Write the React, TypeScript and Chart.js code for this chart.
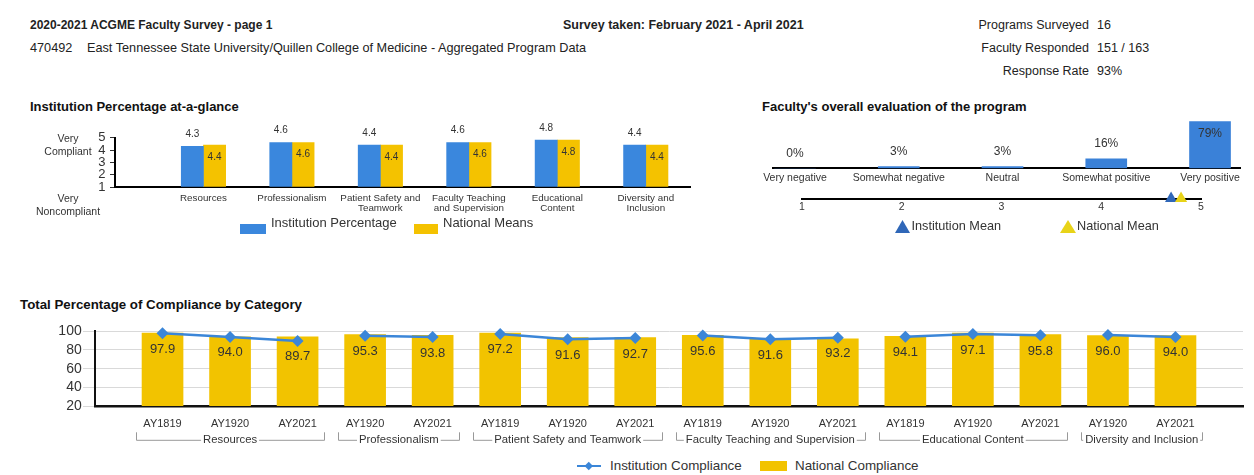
import React, { useEffect, useRef } from "react";
import { Chart, registerables } from "chart.js";

Chart.register(...registerables);

const FONT = '"Liberation Sans", Arial, Helvetica, sans-serif';
Chart.defaults.font.family = FONT;
Chart.defaults.color = "#333";

// ---------- Data: Institution Percentage at-a-glance ----------
const glanceCategories: string[][] = [
  ["Resources"],
  ["Professionalism"],
  ["Patient Safety and", "Teamwork"],
  ["Faculty Teaching", "and Supervision"],
  ["Educational", "Content"],
  ["Diversity and", "Inclusion"],
];
const glanceInstitution = [4.3, 4.6, 4.4, 4.6, 4.8, 4.4];
const glanceNational = [4.4, 4.6, 4.4, 4.6, 4.8, 4.4];
const glanceTicks = [1, 2, 3, 4, 5];

// ---------- Data: Faculty's overall evaluation ----------
const evalCategories = ["Very negative", "Somewhat negative", "Neutral", "Somewhat positive", "Very positive"];
const evalPercent = [0, 3, 3, 16, 79];
const meanTicks = [1, 2, 3, 4, 5];
const institutionMean = [4.7];
const nationalMean = [4.8];

// ---------- Data: Total Percentage of Compliance by Category ----------
const complianceYears = [
  "AY1819", "AY1920", "AY2021",
  "AY1920", "AY2021",
  "AY1819", "AY1920", "AY2021",
  "AY1819", "AY1920", "AY2021",
  "AY1819", "AY1920", "AY2021",
  "AY1920", "AY2021",
];
const complianceGroups = [
  "Resources",
  "Professionalism",
  "Patient Safety and Teamwork",
  "Faculty Teaching and Supervision",
  "Educational Content",
  "Diversity and Inclusion",
];
const complianceGroupSizes = [3, 2, 3, 3, 3, 2];
const institutionCompliance = [97.9, 94.0, 89.7, 95.3, 93.8, 97.2, 91.6, 92.7, 95.6, 91.6, 93.2, 94.1, 97.1, 95.8, 96.0, 94.0];
const nationalCompliance = [98.0, 94.0, 94.0, 96.5, 95.7, 98.0, 93.2, 93.4, 95.7, 92.0, 92.0, 94.7, 98.0, 96.5, 95.4, 95.4];
const complianceTicks = [20, 40, 60, 80, 100];

// ---------- Colours ----------
const BLUE_A = "#3a87dd";
const YELLOW_A = "#f4c200";
const EVAL_BLUE = "#3a81d8";
const TRI_BLUE = "#2f67b8";
const TRI_YELLOW = "#e8d318";
const LINE_BLUE = "#3b86d8";
const YELLOW_C = "#f2c300";

const groupOf: number[] = [];
complianceGroupSizes.forEach((n, g) => {
  for (let k = 0; k < n; k++) groupOf.push(g);
});

function ChartCanvas({ left, top, width, height, make }: any) {
  const ref = useRef<HTMLCanvasElement>(null);
  useEffect(() => {
    const chart = new Chart(ref.current as HTMLCanvasElement, make());
    return () => chart.destroy();
  }, []);
  return (
    <canvas
      ref={ref}
      width={width}
      height={height}
      style={{ position: "absolute", left, top, width, height }}
    />
  );
}

function Txt({ x, y, size = 12, bold = false, align = "left", color = "#222", children }: any) {
  const lh = Math.round(size * 1.3);
  const style: any = {
    position: "absolute",
    top: y - lh / 2,
    lineHeight: lh + "px",
    fontSize: size,
    fontWeight: bold ? 700 : 400,
    color,
    whiteSpace: "nowrap",
  };
  if (align === "left") style.left = x;
  else if (align === "right") style.right = 1254 - x;
  else {
    style.left = x;
    style.transform = "translateX(-50%)";
  }
  return <div style={style}>{children}</div>;
}

function Box({ x, y, w, h, color, extra }: any) {
  return <div style={{ position: "absolute", left: x, top: y, width: w, height: h, background: color, ...(extra || {}) }} />;
}

// ---------- Chart A ----------
function makeGlance() {
  const labelPlugin = {
    id: "glanceLabels",
    afterDatasetsDraw(chart: any) {
      const ctx = chart.ctx;
      ctx.save();
      ctx.font = `10px ${FONT}`;
      ctx.fillStyle = "#333";
      ctx.textAlign = "center";
      ctx.textBaseline = "middle";
      chart.data.datasets.forEach((ds: any, di: number) => {
        const meta = chart.getDatasetMeta(di);
        meta.data.forEach((el: any, i: number) => {
          const v = ds.data[i].y;
          const y = di === 0 ? el.y - 12 : el.y + 12;
          ctx.fillText(v.toFixed(1), el.x, y);
        });
      });
      ctx.restore();
    },
  };
  return {
    type: "bar",
    data: {
      datasets: [
        {
          label: "Institution Percentage",
          data: glanceInstitution.map((y, i) => ({ x: i, y })),
          backgroundColor: BLUE_A,
          barThickness: 22.2,
          base: 1,
        },
        {
          label: "National Means",
          data: glanceNational.map((y, i) => ({ x: i, y })),
          backgroundColor: YELLOW_A,
          barThickness: 22.2,
          base: 1,
        },
      ],
    },
    options: {
      responsive: false,
      animation: false,
      devicePixelRatio: 1,
      layout: { padding: { left: 0, right: 70, top: 27.7, bottom: 0 } },
      plugins: { legend: { display: false }, tooltip: { enabled: false } },
      scales: {
        x: {
          type: "linear",
          offset: false,
          min: -1,
          max: 5.5,
          grid: { display: false, drawTicks: false, offset: false },
          border: { display: true, color: "#000", width: 2 },
          afterBuildTicks: (s: any) => {
            s.ticks = glanceCategories.map((_, i) => ({ value: i }));
          },
          ticks: {
            autoSkip: false,
            maxRotation: 0,
            minRotation: 0,
            padding: 6.4,
            font: { size: 9.8, lineHeight: 1.0 },
            color: "#333",
            callback: (v: any) => glanceCategories[v] ?? "",
          },
          afterFit: (s: any) => {
            s.height = 43;
          },
        },
        y: {
          min: 1,
          max: 5,
          afterBuildTicks: (s: any) => {
            s.ticks = glanceTicks.map((v) => ({ value: v }));
          },
          grid: { drawOnChartArea: false, drawTicks: true, tickLength: 5, color: "#333" },
          border: { display: true, color: "#000", width: 2 },
          ticks: { autoSkip: false, padding: 4.6, font: { size: 13, lineHeight: 1 }, color: "#333" },
          afterFit: (s: any) => {
            s.width = 115;
          },
        },
      },
    },
    plugins: [labelPlugin],
  };
}

// ---------- Chart B ----------
function makeEval() {
  const labelPlugin = {
    id: "evalLabels",
    afterDatasetsDraw(chart: any) {
      const ctx = chart.ctx;
      const area = chart.chartArea;
      ctx.save();
      ctx.font = `12px ${FONT}`;
      ctx.fillStyle = "#333";
      ctx.textAlign = "center";
      ctx.textBaseline = "middle";
      const meta = chart.getDatasetMeta(0);
      meta.data.forEach((el: any, i: number) => {
        let y = el.y - 15;
        if (y < area.top + 12) y = el.y + 12;
        ctx.fillText(evalPercent[i] + "%", el.x, y);
      });
      ctx.restore();
    },
  };
  return {
    type: "bar",
    data: {
      datasets: [
        {
          label: "Faculty's overall evaluation",
          data: evalPercent.map((y, i) => ({ x: i, y })),
          backgroundColor: EVAL_BLUE,
          barThickness: 41,
        },
      ],
    },
    options: {
      responsive: false,
      animation: false,
      devicePixelRatio: 1,
      layout: { padding: { left: 33, right: 14, top: 9.3, bottom: 0 } },
      plugins: { legend: { display: false }, tooltip: { enabled: false } },
      scales: {
        x: {
          type: "linear",
          offset: false,
          min: -0.212,
          max: 4.289,
          grid: { display: false, drawTicks: false, offset: false },
          border: { display: true, color: "#000", width: 2 },
          afterBuildTicks: (s: any) => {
            s.ticks = evalCategories.map((_, i) => ({ value: i }));
          },
          ticks: {
            autoSkip: false,
            maxRotation: 0,
            minRotation: 0,
            padding: 3.7,
            font: { size: 10.5 },
            color: "#333",
            callback: (v: any) => evalCategories[v] ?? "",
          },
          afterFit: (s: any) => {
            s.height = 26.7;
          },
        },
        y: { display: false, min: 0, max: 100 },
      },
    },
    plugins: [labelPlugin],
  };
}

// ---------- Chart B2 (means) ----------
function makeMeans() {
  return {
    type: "scatter",
    data: {
      datasets: [
        {
          label: "Institution Mean",
          data: institutionMean.map((x) => ({ x, y: 0 })),
          pointStyle: "triangle",
          pointRadius: 7,
          backgroundColor: TRI_BLUE,
          borderColor: TRI_BLUE,
          borderWidth: 0,
          clip: false,
          order: 1,
        },
        {
          label: "National Mean",
          data: nationalMean.map((x) => ({ x, y: 0 })),
          pointStyle: "triangle",
          pointRadius: 7,
          backgroundColor: TRI_YELLOW,
          borderColor: TRI_YELLOW,
          borderWidth: 0,
          clip: false,
          order: 0,
        },
      ],
    },
    options: {
      responsive: false,
      animation: false,
      devicePixelRatio: 1,
      layout: { padding: { left: 32, right: 29, top: 10, bottom: 0 } },
      plugins: { legend: { display: false }, tooltip: { enabled: false } },
      scales: {
        x: {
          type: "linear",
          min: 1,
          max: 5,
          grid: { display: false, drawTicks: false },
          border: { display: true, color: "#000", width: 2 },
          afterBuildTicks: (s: any) => {
            s.ticks = meanTicks.map((v) => ({ value: v }));
          },
          ticks: { padding: 1.9, font: { size: 10.5 }, color: "#333", autoSkip: false, maxRotation: 0 },
          afterFit: (s: any) => {
            s.height = 21.5;
          },
        },
        y: { display: false, min: 0, max: 1 },
      },
    },
  };
}

// ---------- Chart C ----------
function makeCompliance() {
  const labelPlugin = {
    id: "complianceLabels",
    afterDatasetsDraw(chart: any) {
      const ctx = chart.ctx;
      ctx.save();
      ctx.font = `13px ${FONT}`;
      ctx.fillStyle = "#333";
      ctx.textAlign = "center";
      ctx.textBaseline = "middle";
      const meta = chart.getDatasetMeta(0);
      meta.data.forEach((el: any, i: number) => {
        ctx.fillText(institutionCompliance[i].toFixed(1), el.x, el.y + 16);
      });
      ctx.restore();
    },
    afterDraw(chart: any) {
      const ctx = chart.ctx;
      const xs = chart.scales.x;
      const lineY = 125.3;
      const textY = 124.5;
      ctx.save();
      ctx.font = `11.3px ${FONT}`;
      ctx.textAlign = "center";
      ctx.textBaseline = "middle";
      ctx.strokeStyle = "#999";
      ctx.lineWidth = 1;
      let start = 0;
      complianceGroups.forEach((g, gi) => {
        const end = start + complianceGroupSizes[gi] - 1;
        let l = xs.getPixelForValue(start - 0.5) + 7;
        let r = xs.getPixelForValue(end + 0.5) - 7;
        const cx = (l + r) / 2;
        const tw = ctx.measureText(g).width;
        const tl = cx - tw / 2 - 2;
        const tr = cx + tw / 2 + 2;
        if (tl < l) l = tl;
        if (tr > r) r = tr;
        ctx.beginPath();
        ctx.moveTo(Math.round(l) + 0.5, lineY - 8);
        ctx.lineTo(Math.round(l) + 0.5, lineY);
        ctx.lineTo(tl, lineY);
        ctx.moveTo(tr, lineY);
        ctx.lineTo(Math.round(r) + 0.5, lineY);
        ctx.lineTo(Math.round(r) + 0.5, lineY - 8);
        ctx.stroke();
        ctx.fillStyle = "#333";
        ctx.fillText(g, cx, textY);
        start = end + 1;
      });
      ctx.restore();
    },
  };
  return {
    type: "bar",
    data: {
      datasets: [
        {
          type: "line",
          label: "Institution Compliance",
          data: institutionCompliance.map((y, i) => ({ x: i, y })),
          borderColor: LINE_BLUE,
          backgroundColor: LINE_BLUE,
          borderWidth: 2.5,
          pointStyle: "rectRot",
          pointRadius: 6,
          pointBorderWidth: 0,
          segment: {
            borderColor: (c: any) =>
              groupOf[c.p0DataIndex] === groupOf[c.p1DataIndex] ? LINE_BLUE : "rgba(0,0,0,0)",
          },
          clip: false,
          order: 0,
        },
        {
          type: "bar",
          label: "National Compliance",
          data: nationalCompliance.map((y, i) => ({ x: i, y })),
          backgroundColor: YELLOW_C,
          barThickness: 41,
          order: 1,
        },
      ],
    },
    options: {
      responsive: false,
      animation: false,
      devicePixelRatio: 1,
      layout: { padding: { left: 0, right: 11, top: 16.3, bottom: 0 } },
      plugins: { legend: { display: false }, tooltip: { enabled: false } },
      scales: {
        x: {
          type: "linear",
          offset: false,
          min: -1,
          max: 16,
          grid: { display: false, drawTicks: false, offset: false },
          border: { display: true, color: "#111", width: 2.5 },
          afterBuildTicks: (s: any) => {
            s.ticks = complianceYears.map((_, i) => ({ value: i }));
          },
          ticks: {
            autoSkip: false,
            maxRotation: 0,
            minRotation: 0,
            padding: 11.1,
            font: { size: 11 },
            color: "#333",
            callback: (v: any) => complianceYears[v] ?? "",
          },
          afterFit: (s: any) => {
            s.height = 44;
          },
        },
        y: {
          min: 20,
          max: 100,
          afterBuildTicks: (s: any) => {
            s.ticks = complianceTicks.map((v) => ({ value: v }));
          },
          grid: { color: "#d9d9d9", lineWidth: 1, drawTicks: true, tickLength: 12 },
          border: { display: true, color: "#111", width: 2 },
          ticks: { autoSkip: false, padding: 1.3, font: { size: 14, lineHeight: 1 }, color: "#333" },
          afterFit: (s: any) => {
            s.width = 95;
          },
        },
      },
    },
    plugins: [labelPlugin],
  };
}

export default function App() {
  return (
    <div
      style={{
        position: "absolute",
        left: 0,
        top: 0,
        width: 1254,
        height: 475,
        background: "#fff",
        fontFamily: FONT,
        overflow: "hidden",
      }}
    >
      {/* Header */}
      <Txt x={30} y={25} size={12} bold>2020-2021 ACGME Faculty Survey - page 1</Txt>
      <Txt x={563} y={25} size={12.5} bold>Survey taken: February 2021 - April 2021</Txt>
      <Txt x={30} y={48} size={12.7}>470492</Txt>
      <Txt x={87} y={48} size={12.7}>East Tennessee State University/Quillen College of Medicine - Aggregated Program Data</Txt>
      <Txt x={1089} y={25} size={12.5} align="right">Programs Surveyed</Txt>
      <Txt x={1097} y={25} size={12.5}>16</Txt>
      <Txt x={1089} y={48} size={12.5} align="right">Faculty Responded</Txt>
      <Txt x={1097} y={48} size={12.5}>151 / 163</Txt>
      <Txt x={1089} y={71} size={12.5} align="right">Response Rate</Txt>
      <Txt x={1097} y={71} size={12.5}>93%</Txt>

      {/* Chart titles */}
      <Txt x={30} y={106} size={13} bold color="#111">Institution Percentage at-a-glance</Txt>
      <Txt x={762} y={106.5} size={13} bold color="#111">Faculty's overall evaluation of the program</Txt>
      <Txt x={20} y={304} size={13.3} bold color="#111">Total Percentage of Compliance by Category</Txt>

      {/* Chart A */}
      <ChartCanvas left={0} top={110} width={760} height={120} make={makeGlance} />
      <Txt x={68} y={137.7} size={10.5} align="center" color="#333">Very</Txt>
      <Txt x={68} y={150.7} size={10.5} align="center" color="#333">Compliant</Txt>
      <Txt x={68} y={198.3} size={10.5} align="center" color="#333">Very</Txt>
      <Txt x={68} y={210.7} size={10.5} align="center" color="#333">Noncompliant</Txt>
      <Box x={240} y={224} w={26} h={10} color={BLUE_A} />
      <Txt x={271} y={222.5} size={13} color="#333">Institution Percentage</Txt>
      <Box x={414} y={224} w={24} h={10} color={YELLOW_A} />
      <Txt x={443} y={222.5} size={13} color="#333">National Means</Txt>

      {/* Chart B */}
      <ChartCanvas left={740} top={100} width={514} height={95} make={makeEval} />
      <ChartCanvas left={770} top={180} width={460} height={40} make={makeMeans} />
      <Box x={895} y={220} w={15} h={13} color={TRI_BLUE} extra={{ clipPath: "polygon(50% 0, 100% 100%, 0 100%)" }} />
      <Txt x={911.5} y={226.7} size={12.7} color="#333">Institution Mean</Txt>
      <Box x={1060} y={220} w={16} h={13} color={TRI_YELLOW} extra={{ clipPath: "polygon(50% 0, 100% 100%, 0 100%)" }} />
      <Txt x={1077} y={226.7} size={12.7} color="#333">National Mean</Txt>

      {/* Chart C */}
      <ChartCanvas left={0} top={315} width={1254} height={135} make={makeCompliance} />
      <Box x={577} y={464.5} w={24} h={2.5} color={LINE_BLUE} />
      <Box x={586} y={462.5} w={5.5} h={5.5} color={LINE_BLUE} extra={{ transform: "rotate(45deg)" }} />
      <Txt x={610} y={465.5} size={13.4} color="#333">Institution Compliance</Txt>
      <Box x={760} y={461} w={27} h={10} color={YELLOW_C} />
      <Txt x={795} y={465.5} size={13.4} color="#333">National Compliance</Txt>
    </div>
  );
}
